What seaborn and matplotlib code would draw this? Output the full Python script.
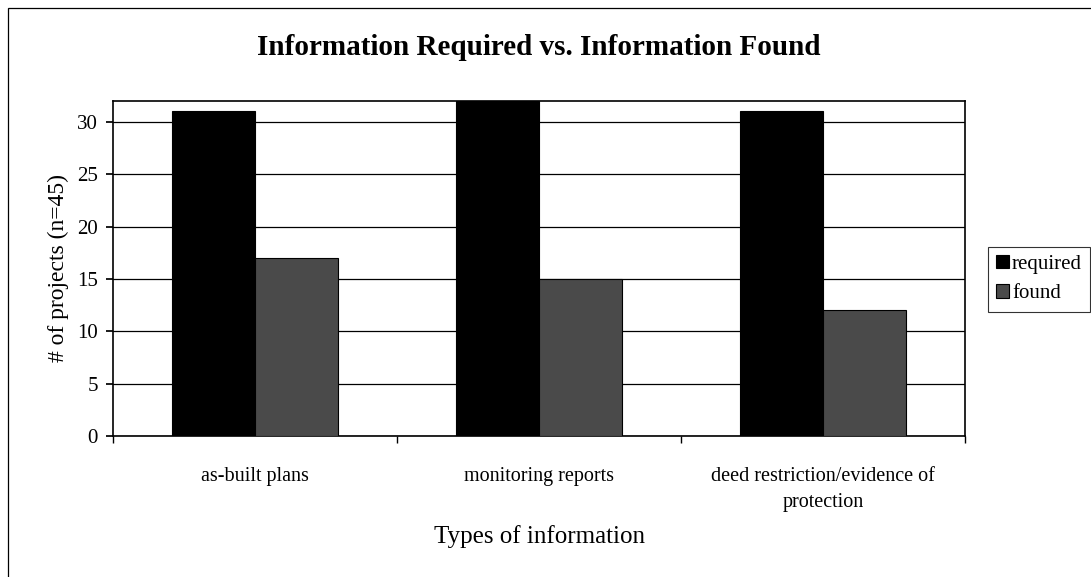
import pandas as pd
import numpy as np
import seaborn as sns
import matplotlib.pyplot as plt
from matplotlib.patches import Rectangle
from matplotlib.ticker import FixedLocator

# values
categories = ['as-built plans', 'monitoring reports',
              'deed restriction/evidence of\nprotection']
required = [31, 32, 31]
found = [17, 15, 12]

df = pd.DataFrame({
    'category': categories * 2,
    'series': ['required'] * 3 + ['found'] * 3,
    'count': required + found,
})

sns.set_theme(style='white')
plt.rcParams['font.family'] = ['Liberation Serif', 'DejaVu Serif']
plt.rcParams['text.color'] = 'black'
plt.rcParams['axes.labelcolor'] = 'black'
plt.rcParams['xtick.color'] = 'black'
plt.rcParams['ytick.color'] = 'black'

fig = plt.figure(figsize=(10.91, 5.77), dpi=100)
ax = fig.add_axes([0.1036, 0.2444, 0.781, 0.5806])

sns.barplot(data=df, x='category', y='count', hue='series',
            palette={'required': '#000000', 'found': '#4a4a4a'},
            width=0.585, gap=0, edgecolor='black', linewidth=0.8,
            saturation=1, ax=ax, zorder=3)

ax.set_ylim(0, 32)
ax.set_xlim(-0.5, 2.5)
ax.set_yticks(range(0, 31, 5))
ax.yaxis.grid(True, color='black', linewidth=0.9, zorder=0)
ax.set_axisbelow(True)
for s in ax.spines.values():
    s.set_color('black')
    s.set_linewidth(1.2)

ax.tick_params(axis='y', left=True, length=5, labelsize=15, pad=6)
ax.tick_params(axis='x', bottom=False, labelsize=14.5, pad=16)
for lbl in ax.get_xticklabels():
    lbl.set_linespacing(1.55)
ax.xaxis.set_minor_locator(FixedLocator([-0.5, 0.5, 1.5, 2.5]))
ax.tick_params(axis='x', which='minor', bottom=True, length=5)

ax.set_xlabel('Types of information', fontsize=18, labelpad=9)
ax.set_ylabel('# of projects (n=45)', fontsize=17, labelpad=6)
ax.set_title('Information Required vs. Information Found',
             fontsize=21, fontweight='bold', pad=33)

leg = ax.legend(title=None, loc='center left', bbox_to_anchor=(1.027, 0.468),
                fontsize=15, frameon=True, fancybox=False,
                handlelength=0.6, handleheight=0.6, handletextpad=0.15,
                borderpad=0.4, labelspacing=0.5, borderaxespad=0)
leg.get_frame().set_edgecolor('black')
leg.get_frame().set_linewidth(0.8)

# outer chart border
fig.patches.append(Rectangle((0.0075, -0.01), 1.0, 0.996, transform=fig.transFigure,
                             fill=False, edgecolor='black', linewidth=0.9))

fig.savefig('out.png', dpi=100)
